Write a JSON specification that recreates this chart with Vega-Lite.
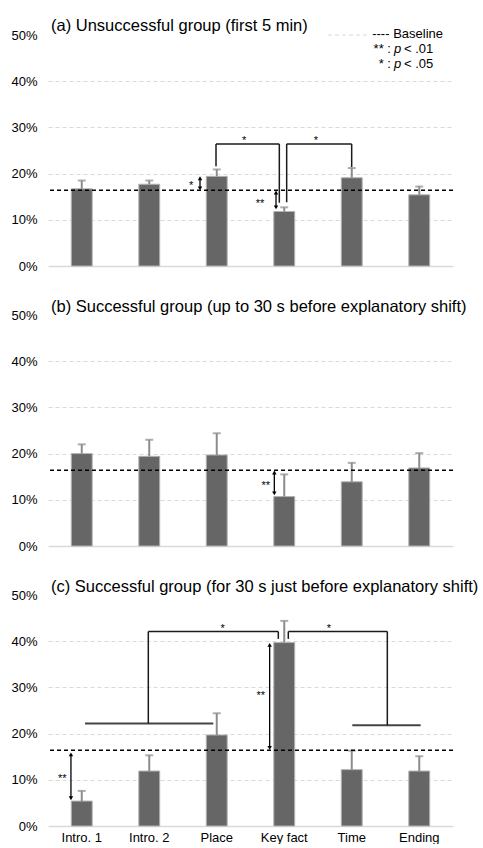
{
  "$schema": "https://vega.github.io/schema/vega-lite/v6.json",
  "padding": {"left": 5, "top": 17, "right": 5, "bottom": 0},
  "spacing": 25,
  "config": {
    "font": "Liberation Sans",
    "view": {"stroke": null},
    "title": {"anchor": "start", "frame": "group", "fontSize": 16.5, "fontWeight": "normal", "color": "#000000", "offset": -6, "font": "Liberation Sans"}
  },
  "datasets": {
    "bars": [
      {"panel": "A", "cat": "Intro. 1", "value": 16.7, "err": 18.5},
      {"panel": "A", "cat": "Intro. 2", "value": 17.7, "err": 18.5},
      {"panel": "A", "cat": "Place", "value": 19.4, "err": 20.9},
      {"panel": "A", "cat": "Key fact", "value": 11.8, "err": 12.7},
      {"panel": "A", "cat": "Time", "value": 19.1, "err": 21.2},
      {"panel": "A", "cat": "Ending", "value": 15.4, "err": 17.2},
      {"panel": "B", "cat": "Intro. 1", "value": 20.0, "err": 22.0},
      {"panel": "B", "cat": "Intro. 2", "value": 19.4, "err": 23.0},
      {"panel": "B", "cat": "Place", "value": 19.7, "err": 24.4},
      {"panel": "B", "cat": "Key fact", "value": 10.7, "err": 15.5},
      {"panel": "B", "cat": "Time", "value": 13.9, "err": 18.0},
      {"panel": "B", "cat": "Ending", "value": 16.9, "err": 20.1},
      {"panel": "C", "cat": "Intro. 1", "value": 5.4, "err": 7.6},
      {"panel": "C", "cat": "Intro. 2", "value": 11.9, "err": 15.3},
      {"panel": "C", "cat": "Place", "value": 19.7, "err": 24.4},
      {"panel": "C", "cat": "Key fact", "value": 39.7, "err": 44.4},
      {"panel": "C", "cat": "Time", "value": 12.2, "err": 16.3},
      {"panel": "C", "cat": "Ending", "value": 11.9, "err": 15.1}
    ],
    "segs": [
      {"panel": "A", "kind": "br", "x": 2.489, "x2": 2.489, "y": 21.6, "y2": 26.4},
      {"panel": "A", "kind": "br", "x": 2.489, "x2": 3.427, "y": 26.4, "y2": 26.4},
      {"panel": "A", "kind": "br", "x": 3.427, "x2": 3.427, "y": 26.4, "y2": 13.7},
      {"panel": "A", "kind": "br", "x": 3.536, "x2": 3.536, "y": 13.8, "y2": 26.4},
      {"panel": "A", "kind": "br", "x": 3.536, "x2": 4.499, "y": 26.4, "y2": 26.4},
      {"panel": "A", "kind": "br", "x": 4.499, "x2": 4.499, "y": 26.4, "y2": 21.4},
      {"panel": "A", "kind": "grid", "x": 4.148, "x2": 4.726, "y": 50, "y2": 50},
      {"panel": "C", "kind": "thick", "x": 0.548, "x2": 2.449, "y": 22.2, "y2": 22.2},
      {"panel": "C", "kind": "thick", "x": 4.508, "x2": 5.521, "y": 21.8, "y2": 21.8},
      {"panel": "C", "kind": "br", "x": 1.486, "x2": 1.486, "y": 22.2, "y2": 42.1},
      {"panel": "C", "kind": "br", "x": 1.486, "x2": 3.412, "y": 42.1, "y2": 42.1},
      {"panel": "C", "kind": "br", "x": 3.412, "x2": 3.412, "y": 42.1, "y2": 40.5},
      {"panel": "C", "kind": "br", "x": 3.560, "x2": 3.560, "y": 40.5, "y2": 42.1},
      {"panel": "C", "kind": "br", "x": 3.560, "x2": 5.027, "y": 42.1, "y2": 42.1},
      {"panel": "C", "kind": "br", "x": 5.027, "x2": 5.027, "y": 42.1, "y2": 21.8}
    ],
    "arrows": [
      {"panel": "A", "x": 2.252, "ytop": 19.0, "ybot": 16.8},
      {"panel": "A", "x": 3.378, "ytop": 15.9, "ybot": 12.7},
      {"panel": "B", "x": 3.353, "ytop": 15.9, "ybot": 11.4},
      {"panel": "C", "x": 3.284, "ytop": 39.2, "ybot": 16.9},
      {"panel": "C", "x": 0.340, "ytop": 15.5, "ybot": 6.0}
    ],
    "stars": [
      {"panel": "A", "x": 2.119, "y": 18.0, "label": "*"},
      {"panel": "A", "x": 3.141, "y": 14.1, "label": "**"},
      {"panel": "A", "x": 2.904, "y": 27.6, "label": "*"},
      {"panel": "A", "x": 3.970, "y": 27.6, "label": "*"},
      {"panel": "B", "x": 3.225, "y": 13.7, "label": "**"},
      {"panel": "C", "x": 2.588, "y": 43.3, "label": "*"},
      {"panel": "C", "x": 4.163, "y": 43.3, "label": "*"},
      {"panel": "C", "x": 3.151, "y": 28.7, "label": "**"},
      {"panel": "C", "x": 0.212, "y": 10.8, "label": "**"}
    ],
    "legend": [
      {"part": "pre", "x": 5.852, "y": 50.2, "label": "---- Baseline"},
      {"part": "pre", "x": 5.081, "y": 47.0, "label": "** :"},
      {"part": "pre", "x": 5.081, "y": 43.7, "label": "* :"},
      {"part": "p", "x": 5.126, "y": 47.0, "label": "p"},
      {"part": "p", "x": 5.126, "y": 43.7, "label": "p"},
      {"part": "post", "x": 5.274, "y": 47.0, "label": "< .01"},
      {"part": "post", "x": 5.274, "y": 43.7, "label": "< .05"}
    ]
  },
  "vconcat": [
    {
      "width": 405,
      "height": 231,
      "title": {"text": "(a) Unsuccessful group (first 5 min)", "dx": 3},
      "layer": [
        {
          "data": {"name": "bars"},
          "transform": [{"filter": "datum.panel == 'A'"}],
          "encoding": {
            "x": {"field": "cat", "type": "nominal", "sort": ["Intro. 1", "Intro. 2", "Place", "Key fact", "Time", "Ending"], "scale": {"paddingInner": 0.69, "paddingOuter": 0.345}, "axis": {"labels": false, "ticks": false, "domainColor": "#d9d9d9", "domainWidth": 1.5, "title": null}}
          },
          "layer": [
            {"mark": {"type": "bar", "color": "#666666", "stroke": "#b3b3b3", "strokeWidth": 1},
             "encoding": {"y": {"field": "value", "type": "quantitative", "scale": {"domain": [0, 50]}, "axis": {"values": [0, 10, 20, 30, 40, 50], "labelExpr": "datum.value + '%'", "grid": true, "gridDash": [4, 3], "gridColor": "#d9d9d9", "gridWidth": 1, "gridOpacity": {"condition": {"test": "datum.value == 0 || datum.value == 50", "value": 0}, "value": 1}, "domain": false, "ticks": false, "labelFontSize": 13, "labelColor": "#000000", "labelPadding": 11, "minExtent": 43, "maxExtent": 43, "title": null}}}},
            {"mark": {"type": "rule", "color": "#8c8c8c", "strokeWidth": 2},
             "encoding": {"y": {"field": "value", "type": "quantitative", "title": null}, "y2": {"field": "err"}}},
            {"mark": {"type": "tick", "color": "#8c8c8c", "size": 8, "thickness": 2},
             "encoding": {"y": {"field": "err", "type": "quantitative", "title": null}}}
          ]
        },
        {
          "data": {"values": [{"base": 16.4}]},
          "mark": {"type": "rule", "color": "#000000", "strokeDash": [4, 3], "strokeWidth": 1.5},
          "encoding": {"y": {"field": "base", "type": "quantitative", "title": null}}
        },
        {
          "layer": [
            {"data": {"name": "segs"}, "transform": [{"filter": "datum.panel == 'A' && datum.kind == 'grid'"}],
             "mark": {"type": "rule", "color": "#d9d9d9", "strokeDash": [4, 3], "strokeWidth": 1},
             "encoding": {"x": {"field": "x", "type": "quantitative", "scale": {"domain": [0, 6], "nice": false, "zero": false}, "axis": null}, "x2": {"field": "x2"}, "y": {"field": "y", "type": "quantitative", "title": null}, "y2": {"field": "y2"}}},
            {"data": {"name": "segs"}, "transform": [{"filter": "datum.panel == 'A' && datum.kind == 'br'"}],
             "mark": {"type": "rule", "color": "#1a1a1a", "strokeWidth": 1.5},
             "encoding": {"x": {"field": "x", "type": "quantitative", "scale": {"domain": [0, 6], "nice": false, "zero": false}, "axis": null}, "x2": {"field": "x2"}, "y": {"field": "y", "type": "quantitative", "title": null}, "y2": {"field": "y2"}}},
            {"data": {"name": "arrows"}, "transform": [{"filter": "datum.panel == 'A'"}],
             "mark": {"type": "rule", "color": "#000000", "strokeWidth": 1.3},
             "encoding": {"x": {"field": "x", "type": "quantitative", "scale": {"domain": [0, 6], "nice": false, "zero": false}, "axis": null}, "y": {"field": "ytop", "type": "quantitative", "title": null}, "y2": {"field": "ybot"}}},
            {"data": {"name": "arrows"}, "transform": [{"filter": "datum.panel == 'A'"}, {"fold": ["ytop", "ybot"], "as": ["end", "yv"]}],
             "mark": {"type": "point", "filled": true, "color": "#000000", "size": 20, "opacity": 1},
             "encoding": {"x": {"field": "x", "type": "quantitative", "scale": {"domain": [0, 6], "nice": false, "zero": false}, "axis": null}, "y": {"field": "yv", "type": "quantitative", "title": null}, "shape": {"field": "end", "type": "nominal", "scale": {"domain": ["ytop", "ybot"], "range": ["triangle-up", "triangle-down"]}, "legend": null}}},
            {"data": {"name": "stars"}, "transform": [{"filter": "datum.panel == 'A'"}],
             "mark": {"type": "text", "fontSize": 11, "fill": "#000000", "align": "center", "baseline": "middle", "dy": 3},
             "encoding": {"x": {"field": "x", "type": "quantitative", "scale": {"domain": [0, 6], "nice": false, "zero": false}, "axis": null}, "y": {"field": "y", "type": "quantitative", "title": null}, "text": {"field": "label"}}},
            {"data": {"name": "legend"}, "transform": [{"filter": "datum.part == 'pre'"}],
             "mark": {"type": "text", "fontSize": 13, "fill": "#000000", "align": "right", "baseline": "middle"},
             "encoding": {"x": {"field": "x", "type": "quantitative", "scale": {"domain": [0, 6], "nice": false, "zero": false}, "axis": null}, "y": {"field": "y", "type": "quantitative", "title": null}, "text": {"field": "label"}}},
            {"data": {"name": "legend"}, "transform": [{"filter": "datum.part == 'p'"}],
             "mark": {"type": "text", "fontSize": 13, "fontStyle": "italic", "fill": "#000000", "align": "left", "baseline": "middle"},
             "encoding": {"x": {"field": "x", "type": "quantitative", "scale": {"domain": [0, 6], "nice": false, "zero": false}, "axis": null}, "y": {"field": "y", "type": "quantitative", "title": null}, "text": {"field": "label"}}},
            {"data": {"name": "legend"}, "transform": [{"filter": "datum.part == 'post'"}],
             "mark": {"type": "text", "fontSize": 13, "fill": "#000000", "align": "left", "baseline": "middle"},
             "encoding": {"x": {"field": "x", "type": "quantitative", "scale": {"domain": [0, 6], "nice": false, "zero": false}, "axis": null}, "y": {"field": "y", "type": "quantitative", "title": null}, "text": {"field": "label"}}}
          ]
        }
      ],
      "resolve": {"scale": {"x": "independent"}}
    },
    {
      "width": 405,
      "height": 231,
      "title": {"text": "(b) Successful group (up to 30 s before explanatory shift)", "dx": 3},
      "layer": [
        {
          "data": {"name": "bars"},
          "transform": [{"filter": "datum.panel == 'B'"}],
          "encoding": {
            "x": {"field": "cat", "type": "nominal", "sort": ["Intro. 1", "Intro. 2", "Place", "Key fact", "Time", "Ending"], "scale": {"paddingInner": 0.69, "paddingOuter": 0.345}, "axis": {"labels": false, "ticks": false, "domainColor": "#d9d9d9", "domainWidth": 1.5, "title": null}}
          },
          "layer": [
            {"mark": {"type": "bar", "color": "#666666", "stroke": "#b3b3b3", "strokeWidth": 1},
             "encoding": {"y": {"field": "value", "type": "quantitative", "scale": {"domain": [0, 50]}, "axis": {"values": [0, 10, 20, 30, 40, 50], "labelExpr": "datum.value + '%'", "grid": true, "gridDash": [4, 3], "gridColor": "#d9d9d9", "gridWidth": 1, "gridOpacity": {"condition": {"test": "datum.value == 0 || datum.value == 50", "value": 0}, "value": 1}, "domain": false, "ticks": false, "labelFontSize": 13, "labelColor": "#000000", "labelPadding": 11, "minExtent": 43, "maxExtent": 43, "title": null}}}},
            {"mark": {"type": "rule", "color": "#8c8c8c", "strokeWidth": 2},
             "encoding": {"y": {"field": "value", "type": "quantitative", "title": null}, "y2": {"field": "err"}}},
            {"mark": {"type": "tick", "color": "#8c8c8c", "size": 8, "thickness": 2},
             "encoding": {"y": {"field": "err", "type": "quantitative", "title": null}}}
          ]
        },
        {
          "data": {"values": [{"base": 16.4}]},
          "mark": {"type": "rule", "color": "#000000", "strokeDash": [4, 3], "strokeWidth": 1.5},
          "encoding": {"y": {"field": "base", "type": "quantitative", "title": null}}
        },
        {
          "layer": [
            {"data": {"name": "arrows"}, "transform": [{"filter": "datum.panel == 'B'"}],
             "mark": {"type": "rule", "color": "#000000", "strokeWidth": 1.3},
             "encoding": {"x": {"field": "x", "type": "quantitative", "scale": {"domain": [0, 6], "nice": false, "zero": false}, "axis": null}, "y": {"field": "ytop", "type": "quantitative", "title": null}, "y2": {"field": "ybot"}}},
            {"data": {"name": "arrows"}, "transform": [{"filter": "datum.panel == 'B'"}, {"fold": ["ytop", "ybot"], "as": ["end", "yv"]}],
             "mark": {"type": "point", "filled": true, "color": "#000000", "size": 20, "opacity": 1},
             "encoding": {"x": {"field": "x", "type": "quantitative", "scale": {"domain": [0, 6], "nice": false, "zero": false}, "axis": null}, "y": {"field": "yv", "type": "quantitative", "title": null}, "shape": {"field": "end", "type": "nominal", "scale": {"domain": ["ytop", "ybot"], "range": ["triangle-up", "triangle-down"]}, "legend": null}}},
            {"data": {"name": "stars"}, "transform": [{"filter": "datum.panel == 'B'"}],
             "mark": {"type": "text", "fontSize": 11, "fill": "#000000", "align": "center", "baseline": "middle", "dy": 3},
             "encoding": {"x": {"field": "x", "type": "quantitative", "scale": {"domain": [0, 6], "nice": false, "zero": false}, "axis": null}, "y": {"field": "y", "type": "quantitative", "title": null}, "text": {"field": "label"}}}
          ]
        }
      ],
      "resolve": {"scale": {"x": "independent"}}
    },
    {
      "width": 405,
      "height": 231,
      "title": {"text": "(c) Successful group (for 30 s just before explanatory shift)", "dx": 3},
      "layer": [
        {
          "data": {"name": "bars"},
          "transform": [{"filter": "datum.panel == 'C'"}],
          "encoding": {
            "x": {"field": "cat", "type": "nominal", "sort": ["Intro. 1", "Intro. 2", "Place", "Key fact", "Time", "Ending"], "scale": {"paddingInner": 0.69, "paddingOuter": 0.345}, "axis": {"labels": true, "labelAngle": 0, "labelFontSize": 13, "labelColor": "#000000", "labelPadding": 5, "ticks": false, "domainColor": "#d9d9d9", "domainWidth": 1.5, "title": null}}
          },
          "layer": [
            {"mark": {"type": "bar", "color": "#666666", "stroke": "#b3b3b3", "strokeWidth": 1},
             "encoding": {"y": {"field": "value", "type": "quantitative", "scale": {"domain": [0, 50]}, "axis": {"values": [0, 10, 20, 30, 40, 50], "labelExpr": "datum.value + '%'", "grid": true, "gridDash": [4, 3], "gridColor": "#d9d9d9", "gridWidth": 1, "gridOpacity": {"condition": {"test": "datum.value == 0 || datum.value == 50", "value": 0}, "value": 1}, "domain": false, "ticks": false, "labelFontSize": 13, "labelColor": "#000000", "labelPadding": 11, "minExtent": 43, "maxExtent": 43, "title": null}}}},
            {"mark": {"type": "rule", "color": "#8c8c8c", "strokeWidth": 2},
             "encoding": {"y": {"field": "value", "type": "quantitative", "title": null}, "y2": {"field": "err"}}},
            {"mark": {"type": "tick", "color": "#8c8c8c", "size": 8, "thickness": 2},
             "encoding": {"y": {"field": "err", "type": "quantitative", "title": null}}}
          ]
        },
        {
          "data": {"values": [{"base": 16.4}]},
          "mark": {"type": "rule", "color": "#000000", "strokeDash": [4, 3], "strokeWidth": 1.5},
          "encoding": {"y": {"field": "base", "type": "quantitative", "title": null}}
        },
        {
          "layer": [
            {"data": {"name": "segs"}, "transform": [{"filter": "datum.panel == 'C' && datum.kind == 'thick'"}],
             "mark": {"type": "rule", "color": "#444444", "strokeWidth": 2},
             "encoding": {"x": {"field": "x", "type": "quantitative", "scale": {"domain": [0, 6], "nice": false, "zero": false}, "axis": null}, "x2": {"field": "x2"}, "y": {"field": "y", "type": "quantitative", "title": null}, "y2": {"field": "y2"}}},
            {"data": {"name": "segs"}, "transform": [{"filter": "datum.panel == 'C' && datum.kind == 'br'"}],
             "mark": {"type": "rule", "color": "#1a1a1a", "strokeWidth": 1.5},
             "encoding": {"x": {"field": "x", "type": "quantitative", "scale": {"domain": [0, 6], "nice": false, "zero": false}, "axis": null}, "x2": {"field": "x2"}, "y": {"field": "y", "type": "quantitative", "title": null}, "y2": {"field": "y2"}}},
            {"data": {"name": "arrows"}, "transform": [{"filter": "datum.panel == 'C'"}],
             "mark": {"type": "rule", "color": "#000000", "strokeWidth": 1.3},
             "encoding": {"x": {"field": "x", "type": "quantitative", "scale": {"domain": [0, 6], "nice": false, "zero": false}, "axis": null}, "y": {"field": "ytop", "type": "quantitative", "title": null}, "y2": {"field": "ybot"}}},
            {"data": {"name": "arrows"}, "transform": [{"filter": "datum.panel == 'C'"}, {"fold": ["ytop", "ybot"], "as": ["end", "yv"]}],
             "mark": {"type": "point", "filled": true, "color": "#000000", "size": 20, "opacity": 1},
             "encoding": {"x": {"field": "x", "type": "quantitative", "scale": {"domain": [0, 6], "nice": false, "zero": false}, "axis": null}, "y": {"field": "yv", "type": "quantitative", "title": null}, "shape": {"field": "end", "type": "nominal", "scale": {"domain": ["ytop", "ybot"], "range": ["triangle-up", "triangle-down"]}, "legend": null}}},
            {"data": {"name": "stars"}, "transform": [{"filter": "datum.panel == 'C'"}],
             "mark": {"type": "text", "fontSize": 11, "fill": "#000000", "align": "center", "baseline": "middle", "dy": 3},
             "encoding": {"x": {"field": "x", "type": "quantitative", "scale": {"domain": [0, 6], "nice": false, "zero": false}, "axis": null}, "y": {"field": "y", "type": "quantitative", "title": null}, "text": {"field": "label"}}}
          ]
        }
      ],
      "resolve": {"scale": {"x": "independent"}}
    }
  ]
}
